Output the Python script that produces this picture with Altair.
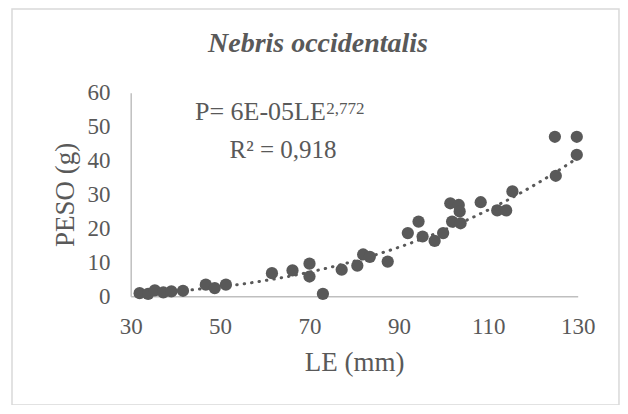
import altair as alt
import pandas as pd

# ---- data ----
le = [32.0, 33.9, 35.4, 37.3, 39.1, 41.7, 46.8, 48.8, 51.3,
      61.6, 66.2, 70.0, 70.0, 73.0, 77.2, 80.7, 82.0, 83.5, 87.5,
      92.0, 94.4, 95.3, 98.0, 99.9, 101.5, 103.4, 103.6, 101.9, 103.8,
      108.3, 112.0, 114.0, 115.4, 125.1, 124.9, 129.8, 129.8]
peso = [0.9, 0.7, 1.7, 1.1, 1.4, 1.6, 3.4, 2.4, 3.4,
        6.8, 7.6, 9.6, 5.8, 0.7, 7.8, 9.0, 12.3, 11.6, 10.2,
        18.6, 22.0, 17.6, 16.3, 18.6, 27.4, 26.9, 25.0, 22.0, 21.5,
        27.7, 25.3, 25.3, 30.9, 35.5, 47.0, 47.0, 41.7]
x_ticks = [30, 50, 70, 90, 110, 130]
y_ticks = [0, 10, 20, 30, 40, 50, 60]
title_text = ["Nebris occidentalis"]
eq_main = ["P= 6E-05LE"]
eq_exp = ["2,772"]
r2_text = ["R² = 0,918"]

FONT = "Liberation Serif"
GREY = "#595959"
AXIS_GREY = "#bfbfbf"

df = pd.DataFrame({"LE": le, "P": peso})

x_enc = alt.X(
    "LE:Q",
    scale=alt.Scale(domain=[30, 130], nice=False, zero=False),
    axis=alt.Axis(values=x_ticks, title="LE (mm)", grid=False, ticks=False, tickSize=0,
                  labelFlush=False, labelOverlap=False,
                  labelPadding=19, titleX=223.5, titleY=74, titleBaseline="alphabetic",
                  titleAlign="center"),
)
y_enc = alt.Y(
    "P:Q",
    scale=alt.Scale(domain=[0, 60], nice=False),
    axis=alt.Axis(values=y_ticks, title="PESO (g)", grid=False, ticks=False, tickSize=0,
                  labelFlush=False, labelOverlap=False, tickCount=7,
                  labelPadding=20.7, titleX=-57.7, titleY=101.75, titleBaseline="alphabetic",
                  titleAlign="center", titleAngle=270),
)

points = alt.Chart(df).mark_circle(size=150, color=GREY, opacity=1).encode(x=x_enc, y=y_enc)

trend = (
    alt.Chart(df)
    .transform_regression("LE", "P", method="pow")
    .mark_line(color=GREY, strokeDash=[0.5, 7], strokeCap="round", strokeWidth=3)
    .encode(x=x_enc, y=y_enc)
)

def text_layer(values, **kw):
    return alt.Chart(pd.DataFrame({"t": values})).mark_text(font=FONT, color=GREY, **kw)

title = text_layer(title_text, fontSize=28, fontStyle="italic", fontWeight="bold",
                   align="center", baseline="alphabetic").encode(
    text="t:N", x=alt.value(187.3), y=alt.value(-40.7))
eq1 = text_layer(eq_main, fontSize=26, align="left", baseline="alphabetic").encode(
    text="t:N", x=alt.value(64.3), y=alt.value(27.3))
eq2 = text_layer(eq_exp, fontSize=17, align="left", baseline="alphabetic").encode(
    text="t:N", x=alt.value(195.5), y=alt.value(21.5))
r2 = text_layer(r2_text, fontSize=25, align="center", baseline="alphabetic").encode(
    text="t:N", x=alt.value(152.3), y=alt.value(65.3))

border = alt.Chart(pd.DataFrame({"a": [0]})).mark_rect(
    fillOpacity=0, stroke="#d9d9d9", strokeWidth=1.5
).encode(x=alt.value(-118.7), x2=alt.value(488.3), y=alt.value(-83.7), y2=alt.value(312.3))

chart = (
    alt.layer(border, trend, points, title, eq1, eq2, r2)
    .properties(
        width=447,
        height=203.5,
        autosize=alt.AutoSizeParams(type="none"),
        padding={"left": 122.7, "top": 84.7, "right": 42, "bottom": 109},
        background="white",
    )
    .configure_view(strokeWidth=0)
    .configure_axis(
        domainColor=AXIS_GREY,
        domainWidth=1.5,
        labelColor=GREY,
        labelFont=FONT,
        labelFontSize=23,
        labelOverlap=False,
        titleColor=GREY,
        titleFont=FONT,
        titleFontSize=27,
        titleFontWeight="normal",
    )
)

chart.save("out.html", embed_options={"renderer": "svg", "actions": False})
